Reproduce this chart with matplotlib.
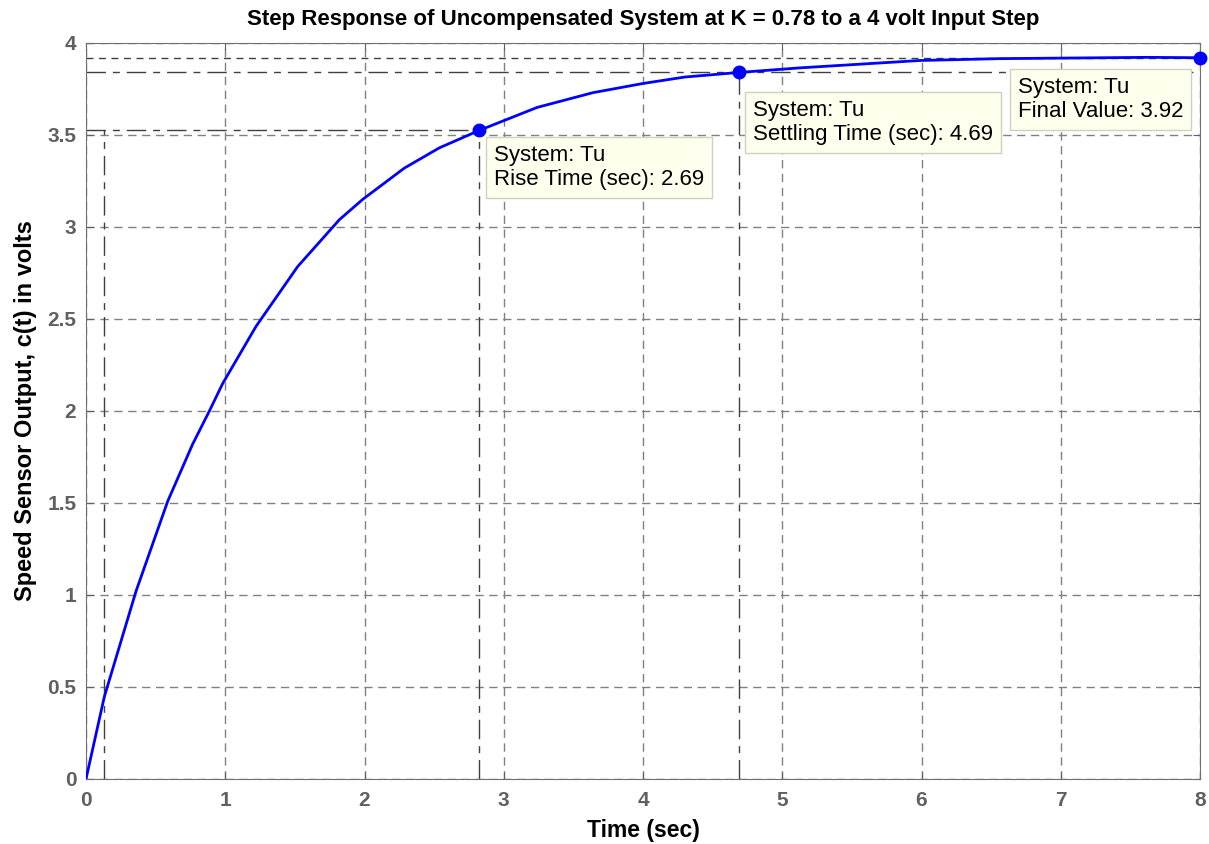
import matplotlib.pyplot as plt

plt.rcParams['font.family'] = ['Liberation Sans', 'DejaVu Sans']

# Step response
t = [0, 0.132, 0.359, 0.587, 0.766, 0.886, 0.982, 1.221, 1.52, 1.82, 1.987, 2.286,
     2.537, 2.824, 3.24, 3.64, 4.0, 4.3, 4.69, 5.13, 5.99, 6.56, 7.62, 8.0]
c = [0, 0.448, 1.02, 1.51, 1.82, 2.0, 2.15, 2.46, 2.785, 3.04, 3.15, 3.32,
     3.43, 3.525, 3.65, 3.73, 3.78, 3.815, 3.84, 3.865, 3.905, 3.915, 3.922, 3.92]

# Step characteristics
t10 = 0.13
t_rise_end = 2.82
y_rise_end = 3.528
t_settle = 4.69
y_settle = 3.842
t_final = 8.0
y_final = 3.92

rise_txt = "System: Tu\nRise Time (sec): 2.69"
settle_txt = "System: Tu\nSettling Time (sec): 4.69"
final_txt = "System: Tu\nFinal Value: 3.92"

xticks = [0, 1, 2, 3, 4, 5, 6, 7, 8]
yticks = [0, 0.5, 1, 1.5, 2, 2.5, 3, 3.5, 4]
ytick_labels = ["0", "0.5", "1", "1.5", "2", "2.5", "3", "3.5", "4"]

fig = plt.figure(figsize=(12.09, 8.44), dpi=100)
ax = fig.add_axes([86 / 1209, 1 - 779 / 844, (1200 - 86) / 1209, (779 - 43) / 844])

ax.set_xlim(0, 8)
ax.set_ylim(0, 4)
ax.set_xticks(xticks)
ax.set_xticklabels([str(v) for v in xticks])
ax.set_yticks(yticks)
ax.set_yticklabels(ytick_labels)
ax.tick_params(direction='in', length=5, colors='#606060', labelsize=15, top=True, right=True)
ax.tick_params(axis='x', pad=9)
ax.tick_params(axis='y', pad=7)
for lab in ax.get_xticklabels() + ax.get_yticklabels():
    lab.set_fontweight('bold')
for s in ax.spines.values():
    s.set_color('#707070')

ax.grid(True, color='#808080', linestyle=(0, (6, 4)), linewidth=1.0)
ax.set_axisbelow(True)

# characteristic lines
dashdot = (0, (14, 5, 5, 5))
kw = dict(color='#404040', linewidth=1.0, linestyle=dashdot)
ax.plot([0, t_rise_end], [y_rise_end, y_rise_end], **kw)
ax.plot([t10, t10], [0, y_rise_end], **kw)
ax.plot([t_rise_end, t_rise_end], [0, y_rise_end], **kw)
ax.plot([0, 8], [y_settle, y_settle], **kw)
ax.plot([t_settle, t_settle], [0, y_settle], **kw)
ax.plot([0, 8], [y_final, y_final], color='#404040', linewidth=1.0, linestyle=(0, (5, 4)))

ax.plot(t, c, color='#0000FF', linewidth=2.0, zorder=5)
ax.plot([t_rise_end, t_settle, t_final], [y_rise_end, y_settle, y_final], 'o',
        color='#0000FF', markersize=9, zorder=6, clip_on=False)

box = dict(boxstyle='square,pad=0.35', facecolor='#FFFFEE', edgecolor='#D0D0C0', linewidth=1.0)
tkw = dict(textcoords='offset pixels', ha='left', va='top', fontsize=16,
           linespacing=1.2, bbox=box, zorder=7)
ax.annotate(rise_txt, (t_rise_end, y_rise_end), xytext=(15, -15), **tkw)
ax.annotate(settle_txt, (t_settle, y_settle), xytext=(14, -28), **tkw)
ax.annotate(final_txt, (t_final, y_final), xytext=(-182, -19), **tkw)

ax.set_title("Step Response of Uncompensated System at K = 0.78 to a 4 volt Input Step",
             fontsize=16, fontweight='bold', pad=13)
ax.set_xlabel("Time (sec)", fontsize=16.5, fontweight='bold', labelpad=6)
ax.set_ylabel("Speed Sensor Output, c(t) in volts", fontsize=17, fontweight='bold', labelpad=7)

fig.savefig("out.png", dpi=100)
